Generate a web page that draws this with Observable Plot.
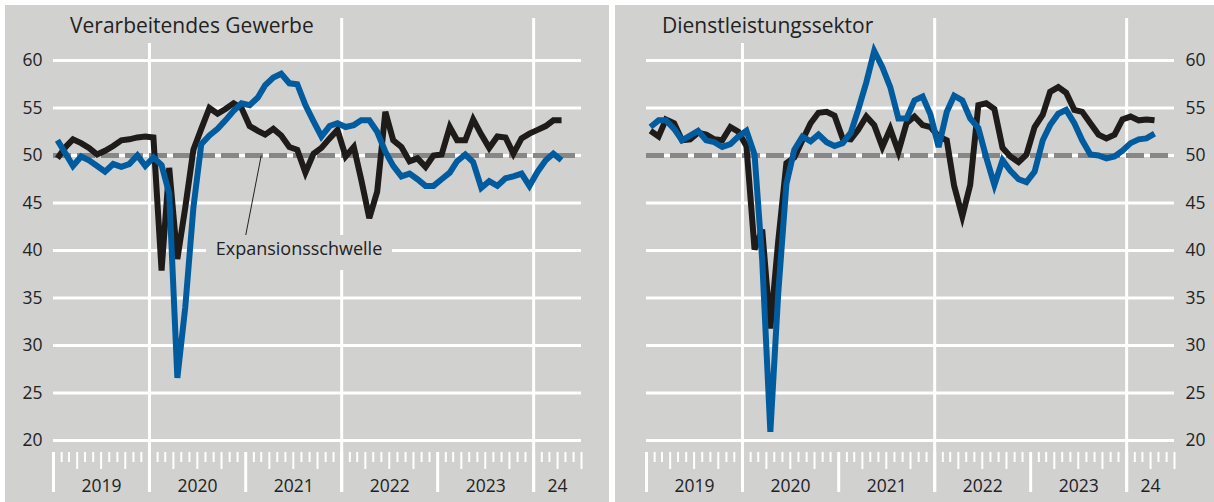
<!DOCTYPE html>
<html>
<head>
<meta charset="utf-8">
<script src="https://cdn.jsdelivr.net/npm/d3@7"></script>
<script src="https://cdn.jsdelivr.net/npm/@observablehq/plot@0.6"></script>
<style>
  html, body { margin: 0; padding: 0; background: #ffffff; }
  #root { position: relative; width: 1214px; height: 502px; overflow: hidden; background: #ffffff;
          font-family: "Open Sans", "Noto Sans", sans-serif; color: #222222; }
  .panel { position: absolute; top: 5px; height: 497px; background: #d1d1d0; }
  .panel svg { display: block; position: absolute; left: 0; top: 0; }
  .title { position: absolute; top: 5px; background: #d1d1d0; font-size: 21px; line-height: 20px;
           padding: 5px 6px 8px 6px; white-space: nowrap; }
  .note { position: absolute; background: #d1d1d0; font-size: 18px; line-height: 17px;
          box-sizing: border-box; text-align: center; white-space: nowrap; padding-top: 5px; }
</style>
</head>
<body>
<div id="root">
  <div class="panel" id="left" style="left:5px;width:604px;"></div>
  <div class="panel" id="right" style="left:615px;width:599px;"></div>
</div>
<script>
// ---- data (monthly, Jan 2019 – Apr 2024) ----
const panelTitles = ["Verarbeitendes Gewerbe", "Dienstleistungssektor"];
const noteText = "Expansionsschwelle";

const mfgBlack = [49.7, 50.9, 51.7, 51.3, 50.8, 50.1, 50.5, 51.0, 51.6, 51.7, 51.9, 52.0,
                  51.9, 37.9, 48.7, 39.1, 44.5, 50.6, 52.8, 55.0, 54.4, 54.9, 55.5, 55.0,
                  53.1, 52.6, 52.2, 52.8, 52.1, 50.9, 50.6, 48.2, 50.2, 50.8, 51.8, 52.7,
                  49.9, 50.9, 47.5, 43.4, 46.2, 54.6, 51.6, 50.9, 49.4, 49.7, 48.8, 50.0,
                  50.1, 53.0, 51.6, 51.6, 53.8, 52.2, 50.8, 52.0, 51.9, 50.2, 51.8, 52.3,
                  52.7, 53.1, 53.7, 53.7];
const mfgBlue = [51.6, 50.2, 48.9, 49.9, 49.5, 48.9, 48.3, 49.1, 48.8, 49.1, 50.0, 48.9,
                 49.8, 49.0, 46.0, 26.6, 34.0, 44.5, 51.2, 52.1, 52.8, 53.7, 54.7, 55.5,
                 55.3, 56.1, 57.4, 58.2, 58.6, 57.6, 57.5, 55.3, 53.6, 52.0, 53.1, 53.4,
                 53.0, 53.2, 53.7, 53.7, 52.5, 50.4, 48.9, 47.8, 48.1, 47.5, 46.8, 46.8,
                 47.5, 48.2, 49.4, 50.1, 49.3, 46.6, 47.3, 46.8, 47.6, 47.8, 48.1, 46.8,
                 48.3, 49.5, 50.2, 49.5];
const svcBlack = [52.6, 52.0, 53.8, 53.4, 51.6, 51.7, 52.4, 52.2, 51.7, 51.6, 53.0, 52.5,
                  51.0, 40.1, 42.2, 31.8, 41.0, 49.2, 49.8, 51.6, 53.4, 54.5, 54.6, 54.2,
                  51.8, 51.7, 52.7, 54.1, 53.2, 50.9, 52.8, 50.4, 53.4, 54.1, 53.2, 53.0,
                  52.0, 51.6, 46.8, 43.6, 46.9, 55.3, 55.5, 54.9, 50.8, 49.9, 49.3, 50.1,
                  53.0, 54.3, 56.7, 57.2, 56.6, 54.8, 54.6, 53.4, 52.2, 51.8, 52.2, 53.8,
                  54.1, 53.7, 53.8, 53.7];
const svcBlue = [53.0, 53.7, 53.7, 52.8, 51.6, 52.1, 52.6, 51.6, 51.4, 50.9, 51.2, 52.0,
                 52.6, 50.1, 39.0, 20.9, 35.5, 47.0, 50.6, 52.0, 51.5, 52.2, 51.4, 51.0,
                 51.3, 52.4, 54.8, 57.7, 61.0, 59.3, 57.2, 53.9, 53.9, 55.8, 56.2, 54.3,
                 50.9, 54.6, 56.3, 55.8, 53.9, 52.9, 49.8, 46.9, 49.5, 48.4, 47.5, 47.2,
                 48.3, 51.6, 53.2, 54.4, 54.8, 53.4, 51.6, 50.1, 50.0, 49.7, 49.9, 50.5,
                 51.3, 51.7, 51.8, 52.3];

const yTicks = [20, 25, 30, 35, 40, 45, 50, 55, 60];
const yearLabels = ["2019", "2020", "2021", "2022", "2023", "24"];
const threshold = 50;

// ---- time helpers ----
const xStart = new Date(Date.UTC(2019, 0, 1));
const xEnd = new Date(Date.UTC(2024, 6, 1));
const monthDates = mfgBlack.map((_, i) => new Date(Date.UTC(2019, i, 16)));
const yearStarts = d3.utcYear.range(xStart, xEnd);
const yearMids = yearStarts.map(d => {
  const next = d3.utcYear.offset(d, 1);
  const end = next > xEnd ? xEnd : next;
  return new Date((+d + +end) / 2);
});
const labelByTime = new Map(yearMids.map((d, i) => [+d, yearLabels[i]]));
const allMonths = d3.utcMonth.range(xStart, d3.utcDay.offset(xEnd, 1));
const shortTicks = allMonths.filter(d => d.getUTCMonth() % 3 !== 0);
const quarterTicks = allMonths.filter(d => d.getUTCMonth() % 3 === 0 && d.getUTCMonth() !== 0);
const yearTicks = allMonths.filter(d => d.getUTCMonth() === 0);
const gridYears = yearTicks.filter(d => (d.getUTCFullYear() - 2020) % 2 === 0);

// leader line of the annotation (data space)
const noteLink = [{x1: new Date(Date.UTC(2021, 2, 1)), y1: threshold, x2: new Date(Date.UTC(2021, 0, 1)), y2: 41.6}];

const BLACK = "#1e1b19", BLUE = "#005c9e", GRID = "#ffffff", DASH = "#878787", TEXT = "#222222";

function series(values) {
  return values.map((v, i) => ({date: monthDates[i], value: v}));
}

function makePanel({black, blue, side, width, marginLeft, marginRight, withNote}) {
  const marks = [
    Plot.gridY(yTicks, {stroke: GRID, strokeOpacity: 1, strokeWidth: 3}),
    Plot.ruleX(gridYears, {stroke: GRID, strokeWidth: 3, insetTop: -42, insetBottom: -40}),
    Plot.axisX(shortTicks, {tickSize: 10, stroke: GRID, strokeWidth: 2, fill: "none", label: null}),
    Plot.axisX(quarterTicks, {tickSize: 17, stroke: GRID, strokeWidth: 2, fill: "none", label: null}),
    Plot.axisX(yearTicks, {tickSize: 40, stroke: GRID, strokeWidth: 3, fill: "none", label: null}),
    Plot.ruleY([threshold], {stroke: DASH, strokeWidth: 5, strokeDasharray: "18,6"}),
  ];
  if (withNote) {
    marks.push(Plot.link(noteLink, {x1: "x1", y1: "y1", x2: "x2", y2: "y2", stroke: "#222", strokeWidth: 1}));
  }
  marks.push(
    Plot.line(series(black), {x: "date", y: "value", stroke: BLACK, strokeWidth: 6,
      strokeLinejoin: "miter", strokeMiterlimit: 4, strokeLinecap: "butt"}),
    Plot.line(series(blue), {x: "date", y: "value", stroke: BLUE, strokeWidth: 6,
      strokeLinejoin: "miter", strokeMiterlimit: 4, strokeLinecap: "butt"}),
    Plot.axisY(yTicks, {anchor: side, tickSize: 0, tickPadding: 11, fontSize: 17.5, fill: TEXT, label: null}),
    Plot.axisX(yearMids, {tickSize: 0, tickPadding: 27, fontSize: 17.5, fill: TEXT, label: null,
      tickFormat: d => labelByTime.get(+d)})
  );
  return Plot.plot({
    width, height: 497,
    marginTop: 55, marginBottom: 50, marginLeft, marginRight,
    x: {type: "utc", domain: [xStart, xEnd]},
    y: {domain: [20, 60], range: [435, 55]},
    style: {background: "transparent", fontFamily: '"Open Sans", "Noto Sans", sans-serif', color: TEXT, overflow: "visible"},
    marks
  });
}

const left = document.getElementById("left");
const right = document.getElementById("right");

left.appendChild(makePanel({black: mfgBlack, blue: mfgBlue, side: "left", width: 604, marginLeft: 48, marginRight: 28, withNote: true}));
right.appendChild(makePanel({black: svcBlack, blue: svcBlue, side: "right", width: 599, marginLeft: 31, marginRight: 40, withNote: false}));

function addDiv(parent, cls, text, css) {
  const d = document.createElement("div");
  d.className = cls;
  d.textContent = text;
  Object.assign(d.style, css);
  parent.appendChild(d);
}
addDiv(left, "title", panelTitles[0], {left: "59px"});
addDiv(right, "title", panelTitles[1], {left: "41px"});
addDiv(left, "note", noteText, {left: "201px", top: "230px", width: "186px", height: "35px"});
</script>
</body>
</html>
